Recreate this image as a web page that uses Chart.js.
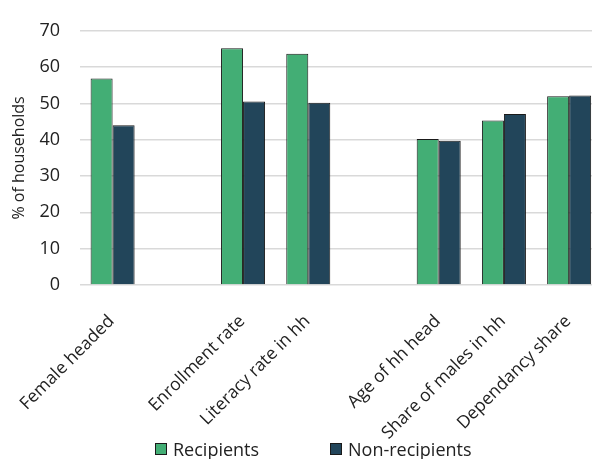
<!DOCTYPE html>
<html>
<head>
<meta charset="utf-8">
<script src="https://cdn.jsdelivr.net/npm/chart.js@4.4.1/dist/chart.umd.min.js"></script>
<style>
    html, body { margin: 0; padding: 0; background: #ffffff; overflow: hidden; }
    #wrap { position: relative; width: 602px; height: 459px; }
    #legend { position: absolute; top: 440px; left: 0; font-family: 'Open Sans', sans-serif; font-size: 18px; line-height: 18px; color: #222222; }
    .item { position: absolute; top: 0; white-space: nowrap; }
    .swatch { position: absolute; top: 3px; width: 10px; height: 10px; border: 1px solid #1a1a1a; }
</style>
</head>
<body>
<div id="wrap">
    <canvas id="chart"></canvas>
    <div id="legend"></div>
</div>
<script>
// categories (blank entries are the gaps between groups)
const categories = ['Female headed', '', 'Enrollment rate', 'Literacy rate in hh', '', 'Age of hh head', 'Share of males in hh', 'Dependancy share'];
const recipients = [56.85, null, 65.2, 63.7, null, 40.2, 45.3, 51.95];
const nonRecipients = [44.0, null, 50.55, 50.2, null, 39.7, 47.1, 52.2];
const seriesNames = ['Recipients', 'Non-recipients'];
const yTicks = [0, 10, 20, 30, 40, 50, 60, 70];

const GREEN = '#43ae75';
const NAVY = '#22455a';
const TEXT = '#222222';

const ctx = document.getElementById('chart').getContext('2d');
new Chart(ctx, {
    type: 'bar',
    data: {
        labels: categories,
        datasets: [{
            label: seriesNames[0],
            data: recipients,
            backgroundColor: GREEN,
            borderColor: '#1a1a1a',
            borderWidth: 1
        }, {
            label: seriesNames[1],
            data: nonRecipients,
            backgroundColor: NAVY,
            borderColor: '#1a1a1a',
            borderWidth: 1
        }]
    },
    options: {
        responsive: true,
        maintainAspectRatio: false,
        animation: false,
        datasets: {
            bar: { categoryPercentage: 0.675, barPercentage: 1.0 }
        },
        layout: { padding: { top: 22, left: 8, right: 0, bottom: 0 } },
        plugins: {
            legend: { display: false },
            tooltip: { enabled: false }
        },
        scales: {
            x: {
                grid: { display: false },
                border: { display: false },
                ticks: {
                    autoSkip: false,
                    minRotation: 45,
                    maxRotation: 45,
                    padding: 18,
                    labelOffset: -1,
                    color: TEXT,
                    font: { family: 'Open Sans', size: 17.5 }
                },
                afterFit: function (scale) { scale.height = 174; }
            },
            y: {
                min: 0,
                max: 70,
                afterBuildTicks: function (scale) {
                    scale.ticks = yTicks.map(v => ({ value: v }));
                },
                grid: { color: '#d9d9d9', lineWidth: 1.5, drawTicks: false },
                border: { display: false },
                ticks: {
                    padding: 20,
                    color: TEXT,
                    font: { family: 'Open Sans', size: 18 }
                },
                title: {
                    display: true,
                    text: '% of households',
                    color: TEXT,
                    padding: { top: 2, bottom: 0 },
                    font: { family: 'Open Sans', size: 16 }
                },
                afterFit: function (scale) { scale.width = 72; }
            }
        }
    }
});

// legend drawn as html below the chart
const legendPos = [{ box: 155, text: 173 }, { box: 330, text: 348 }];
const legendColors = [GREEN, NAVY];
const legend = document.getElementById('legend');
seriesNames.forEach(function (name, i) {
    const sw = document.createElement('div');
    sw.className = 'swatch';
    sw.style.left = legendPos[i].box + 'px';
    sw.style.background = legendColors[i];
    legend.appendChild(sw);
    const item = document.createElement('div');
    item.className = 'item';
    item.style.left = legendPos[i].text + 'px';
    item.textContent = name;
    legend.appendChild(item);
});
</script>
</body>
</html>
